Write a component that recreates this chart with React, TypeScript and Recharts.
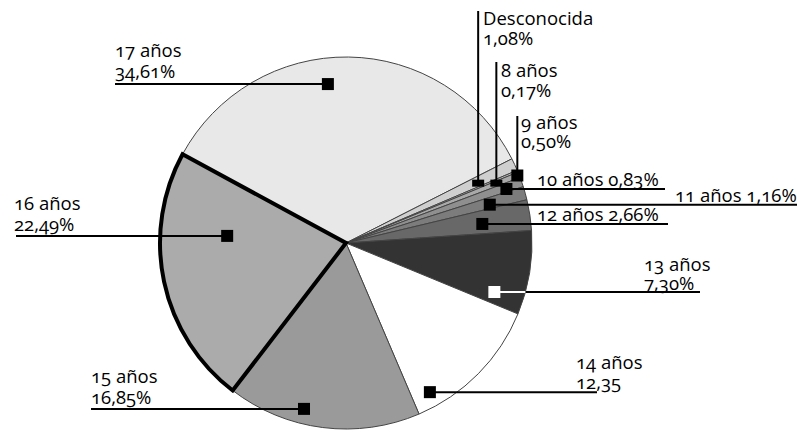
import { PieChart, Pie, Cell } from 'recharts';

const categories = ['17 años', 'Desconocida', '8 años', '9 años', '10 años', '11 años', '12 años', '13 años', '14 años', '15 años', '16 años'];
const shares = [34.61, 1.08, 0.17, 0.5, 0.83, 1.16, 2.66, 7.3, 12.35, 16.85, 22.49];
const shareLabels = ['34,61%', '1,08%', '0,17%', '0,50%', '0,83%', '1,16%', '2,66%', '7,30%', '12,35', '16,85%', '22,49%'];

const data = categories.map((name, i) => ({ name, value: shares[i], pct: shareLabels[i] }));

const fills = ['#e8e8e8', '#cfcfcf', '#bdbdbd', '#a9a9a9', '#8f8f8f', '#7c7c7c', '#686868', '#333333', '#ffffff', '#9a9a9a', '#ababab'];

// marker placement (fraction of radius, angle shift) and leader/label layout
type Lay = {
  k: number; dA: number; dir: 'left' | 'right' | 'up'; to: number;
  tx: number; dy: number[]; inline?: boolean; mh?: number; white?: boolean;
};
const layout: Lay[] = [
  { k: 0.86, dA: 7.3, dir: 'left', to: 115, tx: 115, dy: [-27, -6] },
  { k: 0.78, dA: -0.6, dir: 'up', to: 11, tx: 483, dy: [14, 34], mh: 7 },
  { k: 0.87, dA: -1, dir: 'up', to: 62, tx: 501, dy: [15, 35], mh: 7 },
  { k: 0.99, dA: 0, dir: 'up', to: 116, tx: 521, dy: [13, 32] },
  { k: 0.91, dA: -0.5, dir: 'right', to: 665, tx: 537, dy: [-3], inline: true },
  { k: 0.8, dA: -0.6, dir: 'right', to: 797, tx: 675, dy: [-3], inline: true },
  { k: 0.74, dA: -0.7, dir: 'right', to: 668, tx: 537, dy: [-3], inline: true },
  { k: 0.84, dA: -9, dir: 'right', to: 700, tx: 644, dy: [-21, -2], white: true },
  { k: 0.92, dA: -16, dir: 'right', to: 597, tx: 576, dy: [-23, -3] },
  { k: 0.92, dA: -7, dir: 'left', to: 91, tx: 91, dy: [-26, -5] },
  { k: 0.64, dA: -15.4, dir: 'left', to: 16, tx: 14, dy: [-26, -5] },
];

const RAD = Math.PI / 180;
const FONT = '"Open Sans", "DejaVu Sans", sans-serif';

function renderLabel(props: any) {
  const { cx, cy, outerRadius, midAngle, index } = props;
  const l = layout[index];
  const d = data[index];
  const a = (midAngle + l.dA) * RAD;
  const r = outerRadius * l.k;
  const mx = cx + r * Math.cos(a);
  const my = cy - r * Math.sin(a);
  const mw = 12;
  const mh = l.mh ?? 12;
  const textStyle = { fontFamily: FONT, fontSize: 18.5, fill: '#000', fontFeatureSettings: '"onum"' } as any;
  let line;
  let texts;
  if (l.dir === 'up') {
    line = <line x1={mx} y1={my} x2={mx} y2={l.to} stroke="#000" strokeWidth={2} />;
    texts = (
      <>
        <text x={l.tx} y={l.to + l.dy[0]} style={textStyle}>{d.name}</text>
        <text x={l.tx} y={l.to + l.dy[1]} style={textStyle}>{d.pct}</text>
      </>
    );
  } else {
    let whitePart = null;
    if (l.white) {
      const edge = cx + Math.sqrt(outerRadius * outerRadius - (my - cy) * (my - cy));
      whitePart = <line x1={mx} y1={my} x2={edge} y2={my} stroke="#fff" strokeWidth={2} />;
    }
    line = (
      <>
        <line x1={mx} y1={my} x2={l.to} y2={my} stroke="#000" strokeWidth={2} />
        {whitePart}
      </>
    );
    texts = l.inline ? (
      <text x={l.tx} y={my + l.dy[0]} style={textStyle}>{`${d.name} ${d.pct}`}</text>
    ) : (
      <>
        <text x={l.tx} y={my + l.dy[0]} style={textStyle}>{d.name}</text>
        <text x={l.tx} y={my + l.dy[1]} style={textStyle}>{d.pct}</text>
      </>
    );
  }
  return (
    <g key={`lab-${index}`}>
      {line}
      <rect x={mx - mw / 2} y={my - mh / 2} width={mw} height={mh} fill={l.white ? '#fff' : '#000'} />
      {texts}
    </g>
  );
}

export default function App() {
  return (
    <div style={{ width: 797, height: 432, background: '#fff' }}>
      <style>{'body{margin:0}'}</style>
      <PieChart width={797} height={432} margin={{ top: 0, right: 0, bottom: 0, left: 0 }}>
        <Pie
          data={data}
          dataKey="value"
          nameKey="name"
          cx={346}
          cy={243}
          innerRadius={0}
          outerRadius={186}
          startAngle={151.5}
          endAngle={-208.5}
          paddingAngle={0}
          label={renderLabel}
          labelLine={false}
          isAnimationActive={false}
        >
          {data.map((d, i) => (
            <Cell
              key={d.name}
              fill={fills[i]}
              stroke={i === data.length - 1 ? '#000' : '#444'}
              strokeWidth={i === data.length - 1 ? 4 : 1}
            />
          ))}
        </Pie>
      </PieChart>
    </div>
  );
}
